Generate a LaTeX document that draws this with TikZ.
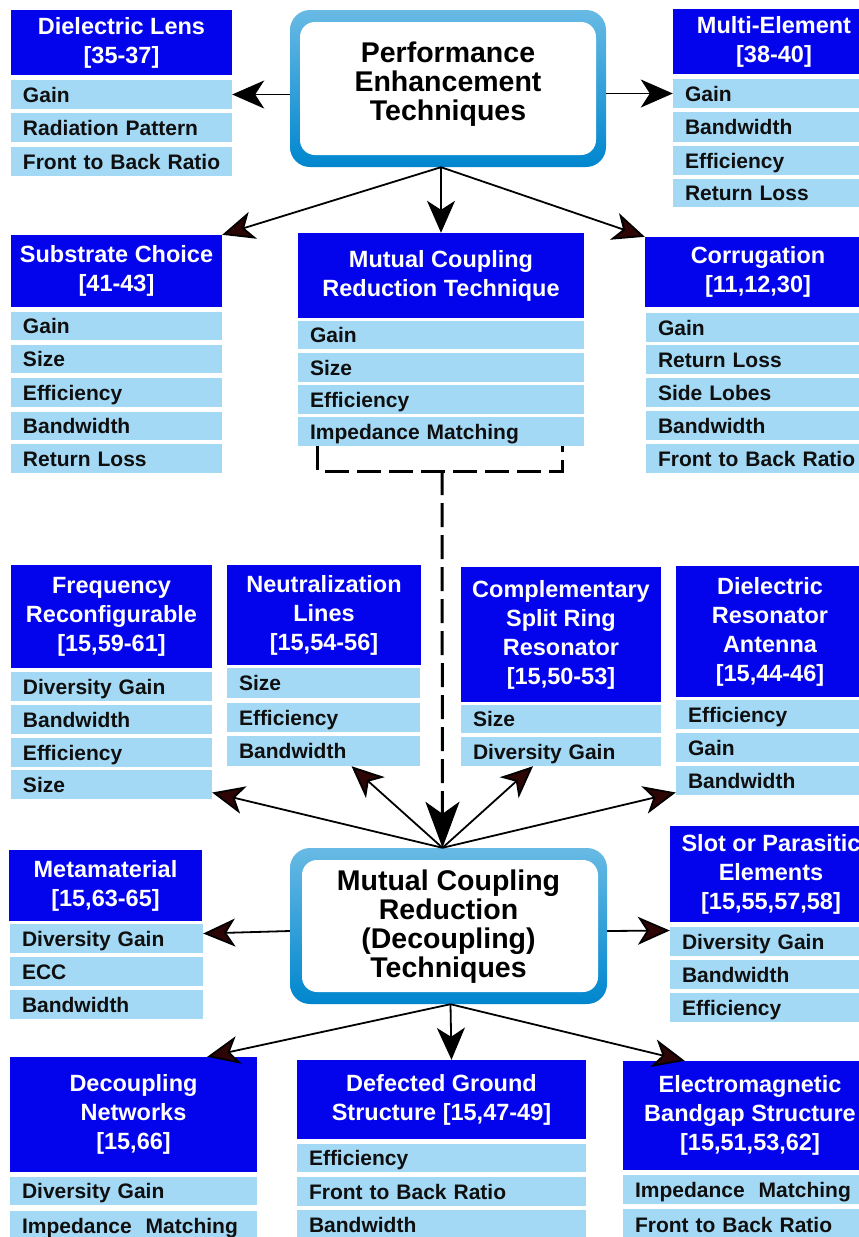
\documentclass[tikz,border=0pt]{standalone}
\usepackage{fontspec}
\setmainfont{Liberation Sans}
\usetikzlibrary{arrows.meta}
\definecolor{hdrblue}{RGB}{4,4,236}
\definecolor{itmblue}{RGB}{164,217,245}
\definecolor{tipbrown}{RGB}{45,5,5}
\definecolor{frametop}{RGB}{104,186,228}
\definecolor{framebot}{RGB}{0,134,206}
\definecolor{itmtext}{RGB}{15,15,15}
\tikzset{
  hdr/.style={fill=hdrblue, text=white, inner sep=0pt, align=center,
    font=\bfseries\fontsize{23.5}{29}\selectfont},
  itm/.style={fill=itmblue, text=itmtext, inner xsep=12pt, inner ysep=0pt, align=left,
    font=\bfseries\fontsize{21}{25}\selectfont, text height=15pt, text depth=0pt},
  frame/.style={rounded corners=20pt, top color=frametop, bottom color=framebot, draw=none, inner sep=0pt},
  innerw/.style={rounded corners=15pt, fill=white, draw=none, inner sep=0pt},
  title/.style={align=center, inner sep=0pt, font=\bfseries\fontsize{28.5}{29}\selectfont},
  arr/.style={line width=1.8pt, draw=black, -{Stealth[length=32pt, width=28pt, inset=9pt]}},
  arrb/.style={line width=1.8pt, draw=black, -{Stealth[length=32pt, width=28pt, inset=9pt, fill=tipbrown]}},
  dashl/.style={line width=3pt, draw=black, dash pattern=on 24pt off 8pt},
}
\newcommand\HdrBox[6]{%
  \pgfmathsetmacro\myW{#4-#2}\pgfmathsetmacro\myH{#5-#3}%
  \node[hdr, minimum width=\myW pt, minimum height=\myH pt] (#1) at ({(#2+#4)/2},{(#3+#5)/2}) {#6};}
\newcommand\ItmBox[6]{%
  \pgfmathsetmacro\myW{#4-#2}\pgfmathsetmacro\myH{#5-#3}\pgfmathsetmacro\myT{#4-#2-24}%
  \node[itm, minimum width=\myW pt, minimum height=\myH pt, text width=\myT pt] (#1) at ({(#2+#4)/2},{(#3+#5)/2}) {\mbox{#6}};}
\begin{document}
\begin{tikzpicture}[x=1pt, y=-1pt]
\useasboundingbox (0,0) rectangle (859,1237);
\clip (0,0) rectangle (859,1237);
\fill[white] (0,0) rectangle (859,1237);

% ---------- top centre ----------
\node[frame, minimum width=316pt, minimum height=157pt] (pe) at (448,88.5) {};
\node[innerw, minimum width=296pt, minimum height=133pt] (pew) at (448,88.5) {};
\node[title] (pet) at (448,84) {Performance\\Enhancement\\Techniques};

% Dielectric lens
\HdrBox{dl}{11}{10}{232}{75}{Dielectric Lens\\{}[35-37]}
\ItmBox{dl1}{11}{80}{232}{109}{Gain}
\ItmBox{dl2}{11}{113}{232}{142}{Radiation Pattern}
\ItmBox{dl3}{11}{147}{232}{176}{Front to Back Ratio}

% Multi-element
\HdrBox{me}{673}{9}{875}{74}{Multi-Element\\{}[38-40]}
\ItmBox{me1}{673}{79}{875}{108}{Gain}
\ItmBox{me2}{673}{112}{875}{142}{Bandwidth}
\ItmBox{me3}{673}{146}{875}{175}{Efficiency}
\ItmBox{me4}{673}{179}{875}{207}{Return Loss}

% Substrate choice
\HdrBox{sc}{11}{235}{222}{307}{Substrate Choice\\{}[41-43]}
\ItmBox{sc1}{11}{312}{222}{340}{Gain}
\ItmBox{sc2}{11}{345}{222}{373}{Size}
\ItmBox{sc3}{11}{378}{222}{407}{Efficiency}
\ItmBox{sc4}{11}{412}{222}{440}{Bandwidth}
\ItmBox{sc5}{11}{444}{222}{473}{Return Loss}

% Mutual coupling reduction technique
\HdrBox{mcrt}{298}{233}{584}{318}{Mutual Coupling\\Reduction Technique}
\ItmBox{mcrt1}{298}{321}{584}{349}{Gain}
\ItmBox{mcrt2}{298}{353}{584}{382}{Size}
\ItmBox{mcrt3}{298}{385}{584}{414}{Efficiency}
\ItmBox{mcrt4}{298}{417}{584}{446}{Impedance Matching}

% Corrugation
\HdrBox{corr}{645}{237}{871}{307}{Corrugation\\{}[11,12,30]}
\ItmBox{corr1}{646}{313}{871}{342}{Gain}
\ItmBox{corr2}{646}{345}{871}{374}{Return Loss}
\ItmBox{corr3}{646}{378}{871}{407}{Side Lobes}
\ItmBox{corr4}{646}{411}{871}{440}{Bandwidth}
\ItmBox{corr5}{646}{444}{871}{473}{Front to Back Ratio}

% ---------- middle row ----------
\HdrBox{fr}{11}{565}{212}{668}{Frequency\\Reconfigurable\\{}[15,59-61]}
\ItmBox{fr1}{11}{672}{212}{701}{Diversity Gain}
\ItmBox{fr2}{11}{705}{212}{734}{Bandwidth}
\ItmBox{fr3}{11}{738}{212}{767}{Efficiency}
\ItmBox{fr4}{11}{770}{212}{799}{Size}

\HdrBox{nl}{227}{565}{421}{665}{Neutralization\\Lines\\{}[15,54-56]}
\ItmBox{nl1}{227}{668}{420}{698}{Size}
\ItmBox{nl2}{227}{703}{420}{732}{Efficiency}
\ItmBox{nl3}{227}{736}{420}{766}{Bandwidth}

\HdrBox{cs}{461}{567}{661}{702}{Complementary\\Split Ring\\Resonator\\{}[15,50-53]}
\ItmBox{cs1}{461}{705}{661}{733}{Size}
\ItmBox{cs2}{461}{737}{661}{766}{Diversity Gain}

\HdrBox{dra}{676}{566}{864}{697}{Dielectric\\Resonator\\Antenna\\{}[15,44-46]}
\ItmBox{dra1}{676}{700}{864}{729}{Efficiency}
\ItmBox{dra2}{676}{733}{864}{762}{Gain}
\ItmBox{dra3}{676}{766}{864}{795}{Bandwidth}

% ---------- bottom centre ----------
\node[frame, minimum width=317pt, minimum height=156pt] (mcd) at (448.5,926) {};
\node[innerw, minimum width=296pt, minimum height=132pt] (mcdw) at (450,926) {};
\node[title] (mcdt) at (448.5,927) {Mutual Coupling\\Reduction\\(Decoupling)\\Techniques};

\HdrBox{mm}{9}{850}{202}{921}{Metamaterial\\{}[15,63-65]}
\ItmBox{mm1}{10}{924}{203}{953}{Diversity Gain}
\ItmBox{mm2}{10}{957}{203}{986}{ECC}
\ItmBox{mm3}{10}{990}{203}{1019}{Bandwidth}

\HdrBox{sp}{670}{826}{872}{922}{Slot or Parasitic\\Elements\\{}[15,55,57,58]}
\ItmBox{sp1}{670}{927}{872}{956}{Diversity Gain}
\ItmBox{sp2}{670}{960}{872}{989}{Bandwidth}
\ItmBox{sp3}{670}{993}{872}{1022}{Efficiency}

\HdrBox{dn}{10}{1057}{257}{1172}{Decoupling\\Networks\\{}[15,66]}
\ItmBox{dn1}{10}{1177}{257}{1205}{Diversity Gain}
\ItmBox{dn2}{10}{1211}{257}{1240}{Impedance\ \ Matching}

\HdrBox{dgs}{297}{1060}{586}{1139}{Defected Ground\\Structure [15,47-49]}
\ItmBox{dgs1}{297}{1144}{586}{1172}{Efficiency}
\ItmBox{dgs2}{297}{1177}{586}{1206}{Front to Back Ratio}
\ItmBox{dgs3}{297}{1210}{586}{1240}{Bandwidth}

\HdrBox{ebg}{623}{1061}{877}{1170}{Electromagnetic\\Bandgap Structure\\{}[15,51,53,62]}
\ItmBox{ebg1}{623}{1175}{877}{1204}{Impedance\ \ Matching}
\ItmBox{ebg2}{623}{1209}{877}{1240}{Front to Back Ratio}

% ---------- connectors ----------
\coordinate (peb) at ([xshift=-7pt]pe.south);
\draw[arr] (pe.west |- dl1.east) -- (dl1.east);
\draw[arr] (pe.east |- me1.west) -- (me1.west);
\draw[arr] (peb) -- (mcrt.north);
\draw[arrb] (peb) -- (sc.north east);
\draw[arrb] (peb) -- (corr.north west);

\coordinate (brL) at ([xshift=20pt]mcrt4.south west);
\coordinate (brR) at ([xshift=-22pt]mcrt4.south east);
\coordinate (brM) at (442,471);
\coordinate (mct) at ([xshift=-6pt]mcd.north);
\draw[dashl] (brL) |- (brM) -| (brR);

\draw[arrb] (mct) -- ([yshift=-8pt]fr4.east);
\draw[arrb] (mct) -- ([xshift=28pt]nl3.south);
\draw[arrb] (mct) -- ([xshift=-28pt]cs2.south);
\draw[arrb] (mct) -- ([yshift=-12pt]dra3.west);
\draw[dashl, -{Stealth[length=46pt, width=34pt, inset=12pt]}] (brM) -- (mct);

\draw[arrb] ([yshift=-5pt]mcd.west) -- ([yshift=5pt]mm1.east);
\draw[arrb] ([yshift=-5pt]mcd.east) -- ([yshift=11pt]sp1.west);

\coordinate (mcb) at ([xshift=2pt]mcd.south);
\draw[arrb] (mcb) -- ([xshift=-50pt]dn.north east);
\draw[arr] (mcb) -- ([xshift=10pt]dgs.north);
\draw[arrb] (mcb) -- ([xshift=62pt]ebg.north west);
\end{tikzpicture}
\end{document}
